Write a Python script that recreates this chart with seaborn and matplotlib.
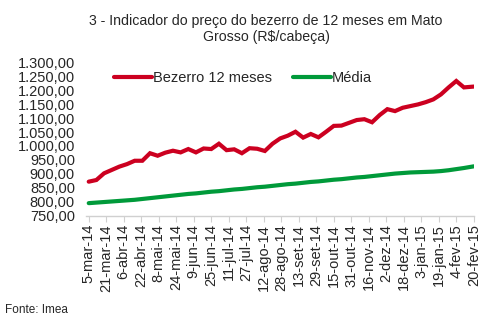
import matplotlib
matplotlib.use("Agg")
import matplotlib.pyplot as plt
import matplotlib.dates as mdates
from matplotlib.ticker import FuncFormatter, FixedLocator
import seaborn as sns
import pandas as pd
import numpy as np

# ---- data ----
dates = [
    "2014-03-05", "2014-03-12", "2014-03-19", "2014-03-26", "2014-04-02", "2014-04-09",
    "2014-04-16", "2014-04-23", "2014-04-30", "2014-05-07", "2014-05-14", "2014-05-21",
    "2014-05-28", "2014-06-04", "2014-06-11", "2014-06-18", "2014-06-25", "2014-07-02",
    "2014-07-09", "2014-07-16", "2014-07-23", "2014-07-30", "2014-08-06", "2014-08-13",
    "2014-08-20", "2014-08-27", "2014-09-03", "2014-09-10", "2014-09-17", "2014-09-24",
    "2014-10-01", "2014-10-08", "2014-10-15", "2014-10-22", "2014-10-29", "2014-11-05",
    "2014-11-12", "2014-11-19", "2014-11-26", "2014-12-03", "2014-12-10", "2014-12-17",
    "2014-12-24", "2014-12-31", "2015-01-07", "2015-01-14", "2015-01-21", "2015-01-28",
    "2015-02-04", "2015-02-11", "2015-02-20",
]
bezerro = [
    872, 878, 902, 914, 926, 935, 947, 947, 974, 965, 976, 983, 977, 989, 977, 991, 989,
    1008, 985, 988, 974, 992, 990, 982, 1008, 1027, 1037, 1051, 1030, 1043, 1031, 1051,
    1072, 1073, 1083, 1093, 1096, 1085, 1111, 1132, 1125, 1137, 1143, 1149, 1157, 1167,
    1185, 1210, 1233, 1210, 1213,
]
media = [
    795, 797, 799, 801, 803, 805, 807, 810, 813, 816, 819, 822, 825, 828, 830, 833, 836,
    838, 841, 844, 846, 849, 852, 854, 857, 860, 863, 865, 868, 871, 873, 876, 879, 881,
    884, 887, 889, 892, 895, 898, 901, 903, 905, 906, 907, 908, 910, 913, 917, 921, 927,
]
series_names = ["Bezerro 12 meses", "Média"]
tick_labels = [
    "5-mar-14", "21-mar-14", "6-abr-14", "22-abr-14", "8-mai-14", "24-mai-14", "9-jun-14",
    "25-jun-14", "11-jul-14", "27-jul-14", "12-ago-14", "28-ago-14", "13-set-14", "29-set-14",
    "15-out-14", "31-out-14", "16-nov-14", "2-dez-14", "18-dez-14", "3-jan-15", "19-jan-15",
    "4-fev-15", "20-fev-15",
]
tick_dates = [
    "2014-03-05", "2014-03-21", "2014-04-06", "2014-04-22", "2014-05-08", "2014-05-24",
    "2014-06-09", "2014-06-25", "2014-07-11", "2014-07-27", "2014-08-12", "2014-08-28",
    "2014-09-13", "2014-09-29", "2014-10-15", "2014-10-31", "2014-11-16", "2014-12-02",
    "2014-12-18", "2015-01-03", "2015-01-19", "2015-02-04", "2015-02-20",
]
title = "3 - Indicador do preço do bezerro de 12 meses em Mato\nGrosso (R$/cabeça)"
source = "Fonte: Imea"

df = pd.DataFrame({"data": pd.to_datetime(dates), series_names[0]: bezerro, series_names[1]: media})
long = df.melt(id_vars="data", var_name="serie", value_name="valor")

sns.set_theme(style="white")
plt.rcParams["font.family"] = ["Liberation Sans", "DejaVu Sans"]

fig = plt.figure(figsize=(4.98, 3.21), dpi=100)
ax = fig.add_axes([86 / 498, 1 - 215.7 / 321, (474 - 86) / 498, (215.7 - 62.3) / 321])

palette = {series_names[0]: "#CC0020", series_names[1]: "#009A3A"}
sns.lineplot(data=long, x="data", y="valor", hue="serie", palette=palette,
             linewidth=3.0, ax=ax, legend=True)
for ln in ax.lines:
    ln.set_solid_joinstyle("miter")

ax.set_ylim(750, 1300)
ax.set_yticks(np.arange(750, 1301, 50))
ax.yaxis.set_major_formatter(FuncFormatter(
    lambda v, p: f"{v:,.2f}".replace(",", "X").replace(".", ",").replace("X", ".")))
td = pd.to_datetime(tick_dates)
ax.set_xlim(mdates.date2num(td[0]) - 2.5, mdates.date2num(td[-1]) + 0.2)
ax.xaxis.set_major_locator(FixedLocator(mdates.date2num(td)))
ax.set_xticklabels(tick_labels, rotation=90, fontsize=10.5)
ax.tick_params(axis="y", labelsize=10.5, length=0, pad=8)
ax.tick_params(axis="x", length=4, width=0.8, color="#D0D0D0", pad=2, direction="out", bottom=True)
ax.set_xlabel("")
ax.set_ylabel("")
for s in ["top", "right", "left"]:
    ax.spines[s].set_visible(False)
ax.spines["bottom"].set_color("#D0D0D0")
ax.spines["bottom"].set_linewidth(1.0)

handles, labels = ax.get_legend_handles_labels()
leg = ax.legend(handles, labels, ncol=2, frameon=False, fontsize=10.5,
                loc="center left", bbox_to_anchor=((114 - 86) / (474 - 86), (215.7 - 78) / (215.7 - 62.3)),
                handlelength=2.6, handletextpad=0.1, columnspacing=1.4, borderaxespad=0,
                borderpad=0)
for lh in leg.get_lines():
    lh.set_linewidth(3.0)

fig.text(266 / 498, 1 - 29 / 321, title, ha="center", va="center", fontsize=10.2, linespacing=1.15)
fig.text(5 / 498, 1 - 310 / 321, source, ha="left", va="center", fontsize=8.5)

fig.savefig("out.png", dpi=100)
